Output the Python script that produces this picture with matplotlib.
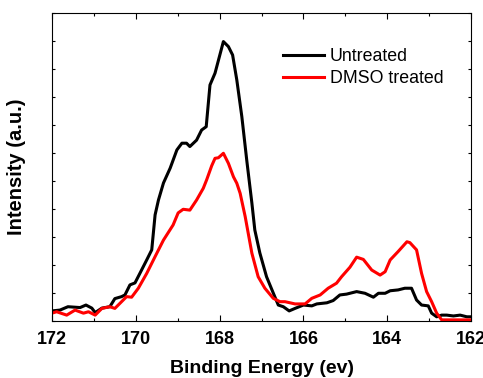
import numpy as np
import matplotlib
matplotlib.use("Agg")
import matplotlib.pyplot as plt
from matplotlib.ticker import MultipleLocator, NullFormatter

plt.rcParams['font.family'] = ['Liberation Sans', 'DejaVu Sans']

# binding energy (eV) and intensity (a.u.)
energy_untreated = [172.00, 171.81, 171.62, 171.33, 171.19, 171.05, 170.97, 170.81, 170.62, 170.50,
                    170.34, 170.26, 170.14, 170.02, 169.90, 169.74, 169.62, 169.54, 169.46, 169.34,
                    169.18, 169.02, 168.90, 168.79, 168.71, 168.55, 168.43, 168.32, 168.23, 168.11,
                    167.91, 167.79, 167.69, 167.59, 167.47, 167.35, 167.23, 167.16, 167.04, 166.88,
                    166.72, 166.60, 166.48, 166.34, 166.20, 166.00, 165.80, 165.68, 165.44, 165.29,
                    165.13, 164.97, 164.73, 164.53, 164.33, 164.21, 164.05, 163.93, 163.74, 163.58,
                    163.42, 163.30, 163.18, 163.02, 162.94, 162.82, 162.70, 162.58, 162.42, 162.26,
                    162.10, 162.02]
intensity_untreated = [0.36, 0.39, 0.51, 0.48, 0.57, 0.46, 0.30, 0.46, 0.51, 0.80,
                       0.87, 0.93, 1.29, 1.36, 1.71, 2.18, 2.54, 3.79, 4.32, 4.93,
                       5.46, 6.11, 6.35, 6.35, 6.23, 6.46, 6.82, 6.94, 8.43, 8.85,
                       9.98, 9.80, 9.50, 8.61, 7.30, 5.71, 4.21, 3.25, 2.43, 1.58,
                       1.00, 0.57, 0.51, 0.36, 0.45, 0.57, 0.54, 0.61, 0.65, 0.73,
                       0.93, 0.96, 1.05, 0.99, 0.85, 0.99, 0.99, 1.08, 1.11, 1.17,
                       1.17, 0.75, 0.57, 0.54, 0.28, 0.15, 0.21, 0.21, 0.18, 0.21,
                       0.15, 0.15]

energy_dmso = [172.00, 171.89, 171.65, 171.45, 171.25, 171.13, 170.97, 170.81, 170.62, 170.50,
               170.34, 170.22, 170.10, 169.94, 169.74, 169.54, 169.34, 169.11, 168.99, 168.87,
               168.71, 168.55, 168.39, 168.31, 168.19, 168.11, 168.03, 167.91, 167.79, 167.67,
               167.59, 167.51, 167.39, 167.23, 167.08, 166.92, 166.72, 166.56, 166.44, 166.20,
               165.96, 165.80, 165.60, 165.41, 165.21, 165.09, 164.89, 164.73, 164.57, 164.37,
               164.17, 164.05, 163.93, 163.74, 163.53, 163.46, 163.30, 163.18, 163.06, 162.94,
               162.82, 162.70, 162.02]
intensity_dmso = [0.28, 0.33, 0.21, 0.39, 0.28, 0.33, 0.21, 0.45, 0.51, 0.45,
                  0.69, 0.87, 0.85, 1.17, 1.70, 2.30, 2.89, 3.43, 3.86, 3.99,
                  3.96, 4.32, 4.74, 5.04, 5.54, 5.81, 5.83, 5.99, 5.63, 5.15,
                  4.92, 4.56, 3.73, 2.42, 1.58, 1.17, 0.81, 0.69, 0.69, 0.61,
                  0.61, 0.81, 0.93, 1.17, 1.35, 1.58, 1.92, 2.28, 2.20, 1.82,
                  1.64, 1.76, 2.18, 2.48, 2.83, 2.80, 2.54, 1.70, 1.05, 0.69,
                  0.28, 0.04, 0.04]

x_ticks = [172, 170, 168, 166, 164, 162]

fig = plt.figure(figsize=(4.83, 3.78), dpi=100)
ax = fig.add_axes([0.1077, 0.1508, 0.8675, 0.8148])

ax.plot(energy_untreated, intensity_untreated, color='black', lw=2.2, label='Untreated')
ax.plot(energy_dmso, intensity_dmso, color='#ff0000', lw=2.2, label='DMSO treated')

ax.set_xlim(172, 162)
ax.set_ylim(0, 11)
ax.set_xticks(x_ticks)
ax.set_xticklabels([str(t) for t in x_ticks], fontsize=13, fontweight='bold')
ax.xaxis.set_minor_locator(MultipleLocator(1))
ax.yaxis.set_major_locator(MultipleLocator(1))
ax.yaxis.set_major_formatter(NullFormatter())

ax.tick_params(axis='x', which='major', direction='in', length=4.3, width=0.8, top=True, pad=7)
ax.tick_params(axis='x', which='minor', direction='in', length=2.4, width=0.8, top=True)
ax.tick_params(axis='y', which='major', direction='in', length=2.4, width=0.8, right=True)
for s in ax.spines.values():
    s.set_linewidth(0.8)

ax.set_xlabel('Binding Energy (ev)', fontsize=14, fontweight='bold', labelpad=9)
ax.set_ylabel('Intensity (a.u.)', fontsize=14.5, fontweight='bold', labelpad=15)

ax.legend(loc='upper left', bbox_to_anchor=(0.551, 0.887), frameon=False, fontsize=12.8,
          handlelength=2.3, handletextpad=0.35, labelspacing=0.3, borderpad=0, borderaxespad=0)

fig.savefig('out.png', dpi=100)
